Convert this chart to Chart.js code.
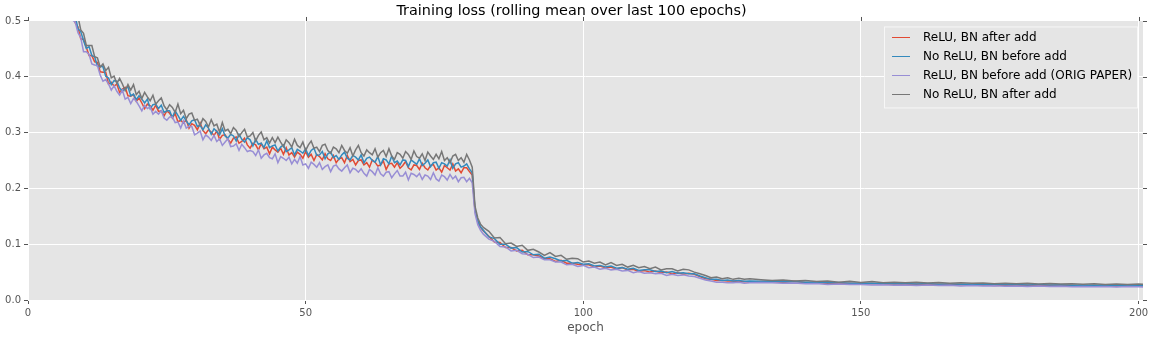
<!DOCTYPE html>
<html lang="en">
<head>
    <meta charset="UTF-8">
    <title>Training loss</title>
    <script src="https://cdnjs.cloudflare.com/ajax/libs/Chart.js/4.4.1/chart.umd.min.js"></script>
    <style>
        body { margin: 0; background: #fff; }
        canvas { display: block; }
    </style>
</head>
<body>
    <canvas id="lossChart" width="1154" height="337"></canvas>

    <script>
        // sampling of the epoch axis: half epochs up to the lr drop, then 1, then 2
        const epochs = [];
        for (let e = 8; e <= 82; e += 0.5) epochs.push(e);
        for (let e = 83; e <= 130; e++) epochs.push(e);
        for (let e = 132; e <= 200; e += 2) epochs.push(e);
        epochs.push(200.8);

        const seriesLabels = ['ReLU, BN after add', 'No ReLU, BN before add', 'ReLU, BN before add (ORIG PAPER)', 'No ReLU, BN after add'];
        const seriesColors = ['#E24A33', '#348ABD', '#988ED5', '#777777'];

        const xTicks = [0, 50, 100, 150, 200];
        const yTicks = [0.0, 0.1, 0.2, 0.3, 0.4, 0.5];

        const reluAfter = [
            .517,.497,.489,.468,.467,.453,.438,.438,.427,.426,
            .409,.408,.408,.387,.390,.383,.387,.372,.378,.381,
            .366,.365,.368,.356,.362,.353,.343,.351,.348,.340,
            .349,.338,.339,.330,.339,.335,.326,.334,.319,.322,
            .317,.323,.308,.316,.313,.305,.317,.304,.298,.305,
            .301,.295,.303,.288,.295,.296,.288,.281,.290,.292,
            .281,.284,.290,.278,.272,.281,.278,.269,.280,.271,
            .274,.262,.274,.269,.265,.272,.261,.273,.260,.264,
            .256,.265,.261,.254,.266,.256,.261,.250,.261,.257,
            .251,.262,.253,.250,.259,.246,.253,.255,.246,.259,
            .248,.252,.242,.250,.251,.242,.246,.238,.251,.247,
            .240,.242,.249,.234,.244,.245,.238,.246,.236,.241,
            .248,.237,.233,.242,.241,.234,.245,.237,.233,.241,
            .243,.233,.237,.229,.241,.237,.233,.244,.231,.235,
            .228,.237,.237,.230,.224,.160,.140,.130,.124,
            .114,.104,.103,.094,.094,.088,.089,.081,.081,.079,
            .074,.074,.069,.071,.066,.066,.064,.063,.063,.059,
            .061,.058,.059,.055,.058,.054,.055,.051,.053,.050,
            .052,.049,.050,.047,.049,.046,.048,.046,.042,.038,
            .037,.035,.035,.034,.034,.0325,.033,.032,
            .0325,.033,.0315,.0335,.0308,.031,.0302,.029,.030,.0285,
            .0295,.0283,.029,.0278,.0284,.0276,.0282,.0272,.0276,.0268,
            .0274,.0262,.027,.0258,.0264,.0256,.0262,.0255,.0261,.0252,
            .0258,.0249,.0256,.0248,.0253,.025
        ];

        const noReluBefore = [
            .515,.509,.486,.481,.465,.451,.454,.438,.436,.419,
            .419,.418,.401,.398,.386,.393,.392,.380,.374,.379,
            .382,.366,.369,.359,.366,.360,.353,.360,.343,.350,
            .351,.343,.349,.336,.339,.339,.327,.339,.331,.322,
            .329,.321,.314,.321,.323,.311,.313,.305,.314,.308,
            .297,.307,.302,.296,.307,.294,.290,.297,.294,.285,
            .297,.288,.283,.291,.287,.276,.288,.279,.281,.273,
            .285,.273,.276,.278,.267,.274,.278,.266,.269,.273,
            .260,.270,.267,.263,.271,.259,.268,.272,.259,.260,
            .266,.253,.262,.265,.255,.259,.252,.260,.265,.254,
            .251,.259,.256,.251,.260,.246,.254,.256,.250,.247,
            .257,.242,.253,.251,.244,.258,.246,.249,.242,.251,
            .250,.239,.251,.247,.243,.253,.241,.245,.251,.239,
            .246,.247,.236,.246,.244,.240,.251,.236,.244,.246,
            .238,.240,.244,.235,.228,.162,.142,.131,.125,
            .113,.110,.100,.100,.093,.094,.086,.087,.081,.082,
            .075,.077,.074,.070,.071,.066,.067,.064,.065,.061,
            .062,.059,.061,.057,.058,.055,.057,.053,.054,.054,
            .051,.052,.049,.051,.048,.049,.047,.047,.043,.040,
            .037,.037,.035,.036,.034,.035,.0335,.034,
            .0335,.034,.0325,.033,.0318,.0322,.0308,.0312,.030,.0306,
            .0298,.0302,.0292,.0296,.0288,.0294,.0283,.029,.0282,.0287,
            .0278,.0283,.0274,.0278,.0269,.0276,.0267,.0273,.0264,.0271,
            .0263,.0268,.026,.0267,.0262,.026
        ];

        const reluBefore = [
            .502,.498,.479,.470,.445,.445,.440,.423,.421,.420,
            .403,.392,.395,.387,.376,.384,.374,.367,.376,.360,
            .363,.352,.361,.356,.348,.339,.349,.343,.346,.333,
            .338,.333,.339,.326,.322,.328,.328,.318,.319,.308,
            .321,.308,.311,.311,.296,.299,.303,.287,.296,.292,
            .286,.295,.284,.289,.277,.283,.289,.275,.276,.280,
            .268,.279,.273,.266,.268,.266,.259,.269,.254,.260,
            .263,.255,.253,.262,.246,.257,.254,.250,.256,.244,
            .252,.245,.257,.242,.244,.236,.247,.243,.238,.246,
            .234,.239,.242,.230,.240,.242,.235,.231,.237,.242,
            .228,.236,.234,.229,.235,.227,.222,.234,.230,.224,
            .237,.226,.222,.229,.230,.219,.226,.232,.222,.222,
            .229,.215,.227,.225,.221,.227,.216,.224,.222,.216,
            .228,.217,.213,.224,.221,.215,.225,.217,.222,.212,
            .219,.220,.212,.218,.210,.155,.135,.125,.118,
            .109,.105,.096,.095,.088,.089,.083,.082,.076,.077,
            .072,.072,.068,.068,.063,.064,.060,.062,.058,.059,
            .055,.057,.054,.055,.052,.053,.049,.051,.048,.049,
            .047,.048,.044,.046,.044,.045,.043,.042,.039,.036,
            .034,.032,.032,.031,.031,.032,.030,.031,
            .0315,.031,.030,.0305,.029,.0295,.028,.0285,.0276,.0279,
            .027,.0274,.0266,.027,.026,.0268,.0258,.0264,.0252,.0258,
            .025,.0255,.0246,.025,.0243,.0249,.024,.0246,.0238,.0244,
            .0237,.0242,.0235,.024,.0236,.0235
        ];

        const noReluAfter = [
            .528,.507,.508,.484,.478,.456,.456,.456,.436,.434,
            .417,.423,.411,.417,.398,.401,.388,.397,.387,.375,
            .386,.376,.386,.368,.374,.361,.372,.364,.357,.367,
            .351,.357,.362,.348,.341,.350,.345,.336,.351,.334,
            .340,.325,.333,.335,.322,.324,.313,.325,.320,.310,
            .323,.312,.315,.301,.318,.303,.306,.298,.309,.304,
            .293,.300,.306,.292,.294,.300,.285,.295,.301,.287,
            .291,.281,.291,.282,.292,.283,.275,.287,.282,.274,
            .288,.277,.273,.283,.268,.278,.285,.272,.274,.266,
            .277,.279,.268,.263,.274,.271,.264,.277,.268,.263,
            .273,.258,.269,.277,.264,.258,.269,.264,.260,.271,
            .256,.264,.268,.257,.271,.258,.252,.264,.261,.254,
            .266,.261,.252,.267,.257,.254,.262,.250,.265,.258,
            .252,.261,.253,.266,.250,.255,.246,.258,.261,.250,
            .255,.247,.261,.251,.238,.168,.147,.136,.130,
            .123,.111,.112,.101,.102,.096,.098,.089,.091,.086,
            .080,.085,.078,.080,.073,.075,.074,.068,.070,.066,
            .068,.063,.067,.062,.064,.059,.062,.058,.060,.056,
            .059,.054,.056,.056,.052,.055,.054,.050,.047,.044,
            .040,.041,.038,.040,.037,.039,.037,.038,
            .0365,.035,.036,.034,.035,.033,.034,.032,.0335,.0315,
            .033,.031,.0318,.031,.032,.0305,.0312,.030,.0308,.0298,
            .0305,.029,.030,.0292,.0298,.0288,.0294,.0285,.0292,.0283,
            .029,.028,.0288,.0279,.0285,.028
        ];

        const seriesValues = [reluAfter, noReluBefore, reluBefore, noReluAfter];
        const FONT = 'DejaVu Sans';

        // grey plot background
        const plotBackground = {
            id: 'plotBackground',
            beforeDraw(chart) {
                const {ctx, chartArea: a} = chart;
                ctx.save();
                ctx.fillStyle = '#E5E5E5';
                ctx.fillRect(a.left, a.top, a.right - a.left, a.bottom - a.top);
                ctx.restore();
            }
        };

        // matplotlib puts tick marks on top and right too
        const mirrorTicks = {
            id: 'mirrorTicks',
            afterDraw(chart) {
                const {ctx, chartArea: a, scales} = chart;
                ctx.save();
                ctx.strokeStyle = '#555';
                ctx.lineWidth = 1;
                ctx.beginPath();
                xTicks.forEach(v => {
                    const px = Math.round(scales.x.getPixelForValue(v)) + 0.5;
                    ctx.moveTo(px, a.top);
                    ctx.lineTo(px, a.top - 4);
                });
                yTicks.forEach(v => {
                    const py = Math.round(scales.y.getPixelForValue(v)) + 0.5;
                    ctx.moveTo(a.right, py);
                    ctx.lineTo(a.right + 4, py);
                });
                ctx.stroke();
                ctx.restore();
            }
        };

        // legend box in the upper right, like plt.legend()
        const boxLegend = {
            id: 'boxLegend',
            afterDatasetsDraw(chart) {
                const {ctx, chartArea: a} = chart;
                const right = a.right - 6, top = a.top + 5.5;
                const rowH = 19, w = 253, h = 81;
                const left = right - w;
                ctx.save();
                ctx.fillStyle = '#E5E5E5';
                ctx.strokeStyle = '#F7F7F7';
                ctx.lineWidth = 1;
                ctx.fillRect(left + 0.5, top + 0.5, w, h);
                ctx.strokeRect(left + 0.5, top + 0.5, w, h);
                ctx.font = '12px "' + FONT + '"';
                ctx.textBaseline = 'middle';
                seriesLabels.forEach((label, i) => {
                    const y = top + 11 + i * rowH;
                    ctx.strokeStyle = seriesColors[i];
                    ctx.beginPath();
                    ctx.moveTo(left + 8, Math.round(y) + 0.5);
                    ctx.lineTo(left + 26, Math.round(y) + 0.5);
                    ctx.stroke();
                    ctx.fillStyle = '#000';
                    ctx.fillText(label, left + 39, y);
                });
                ctx.restore();
            }
        };

        const ctx = document.getElementById('lossChart').getContext('2d');
        const lossChart = new Chart(ctx, {
            type: 'line',
            data: {
                datasets: seriesValues.map((vals, i) => ({
                    label: seriesLabels[i],
                    data: vals.map((v, k) => ({x: epochs[k], y: v})),
                    borderColor: seriesColors[i],
                    borderWidth: 1.5,
                    pointRadius: 0,
                    tension: 0,
                    clip: 0,
                    order: seriesValues.length - i
                }))
            },
            options: {
                responsive: false,
                animation: false,
                layout: { padding: { left: 0, right: 11, top: 0, bottom: 0 } },
                plugins: {
                    legend: { display: false },
                    tooltip: { enabled: false },
                    title: {
                        display: true,
                        text: 'Training loss (rolling mean over last 100 epochs)',
                        color: '#000',
                        font: { family: FONT, size: 14.4, weight: 'normal', lineHeight: 1.2 },
                        padding: { top: 3, bottom: 0.7 }
                    }
                },
                scales: {
                    x: {
                        type: 'linear',
                        min: 0,
                        max: 200.8,
                        afterBuildTicks: s => { s.ticks = xTicks.map(v => ({value: v})); },
                        afterFit: s => { s.height = 37; },
                        grid: { color: '#fff', lineWidth: 1, tickColor: '#555', tickLength: 4 },
                        border: { display: false },
                        ticks: {
                            color: '#555',
                            padding: 3,
                            maxRotation: 0,
                            font: { family: FONT, size: 10 }
                        },
                        title: {
                            display: true,
                            text: 'epoch',
                            color: '#555',
                            font: { family: FONT, size: 12 },
                            padding: { top: 0, bottom: 1.8 }
                        }
                    },
                    y: {
                        min: 0,
                        max: 0.5,
                        afterBuildTicks: s => { s.ticks = yTicks.map(v => ({value: v})); },
                        afterFit: s => { s.width = 28; },
                        grid: { color: '#fff', lineWidth: 1, tickColor: '#555', tickLength: 4 },
                        border: { display: false },
                        ticks: {
                            color: '#555',
                            padding: 3,
                            font: { family: FONT, size: 10 },
                            callback: v => v.toFixed(1)
                        }
                    }
                }
            },
            plugins: [plotBackground, mirrorTicks, boxLegend]
        });
    </script>
</body>
</html>
